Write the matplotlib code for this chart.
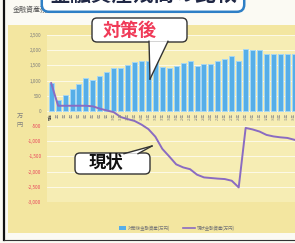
import matplotlib.pyplot as plt
from matplotlib.patches import FancyBboxPatch, Polygon, Rectangle
from matplotlib.lines import Line2D

plt.rcParams['font.family'] = ['Noto Sans CJK JP', 'DejaVu Sans']

# ---- data (万円) ----
x_labels = ['現在', '2年', '3年', '4年', '5年', '6年', '7年', '8年', '9年', '10年',
            '11年', '12年', '13年', '14年', '15年', '16年', '17年', '18年', '19年', '20年',
            '21年', '22年', '23年', '24年', '25年', '26年', '27年', '28年', '29年', '30年',
            '31年', '32年', '33年', '34年', '35年', '36年', '37年']
after_balance = [930, 360, 520, 710, 870, 1070, 1010, 1140, 1285, 1415,
                 1415, 1510, 1620, 1640, 1650, 1660, 1450, 1416, 1490, 1580,
                 1660, 1490, 1557, 1557, 1660, 1710, 1800, 1650, 2030, 2010,
                 2020, 1880, 1880, 1880, 1880, 1880, 1880]
current_balance = [915, 170, 170, 170, 170, 170, 150, 75, 15, -40,
                   -200, -270, -330, -450, -600, -850, -1250, -1500, -1760, -1860,
                   -1920, -2100, -2190, -2210, -2230, -2245, -2300, -2520, -560, -610,
                   -680, -790, -840, -870, -890, -950, -1000]
y_ticks = [2500, 2000, 1500, 1000, 500, 0, -500, -1000, -1500, -2000, -2500, -3000]
y_tick_labels = ['2,500', '2,000', '1,500', '1,000', '500', '0',
                 '-500', '-1,000', '-1,500', '-2,000', '-2,500', '-3,000']

title = '金融資産残高の比較'
after_name = '対策後金融資産(万円)'
current_name = '現状金融資産(万円)'

W, H = 295, 243


def P(x, y):
    # pixel position (from top-left) -> inches for dpi_scale_trans
    return x / 100, (H - y) / 100


fig = plt.figure(figsize=(W / 100, H / 100), dpi=100, facecolor='#fbfaf3')
tr = fig.dpi_scale_trans

# yellow chart background
fig.add_artist(Rectangle(P(8, 233), 287 / 100, 208 / 100, transform=tr,
                         facecolor='#f3e6a0', edgecolor='none', zorder=-5))

ax = fig.add_axes([47 / W, 1 - 202 / H, (304 - 47) / W, (202 - 35) / H])
ax.set_facecolor('#f6edb4')
xs = list(range(len(after_balance)))
ax.bar(xs, after_balance, width=0.72, color='#56aee8', edgecolor='#a6d7f4',
       linewidth=0.7, zorder=2)
ax.plot(xs, current_balance, color='#8a6bc2', linewidth=1.4, zorder=3)

ax.set_xlim(-0.6, len(xs) - 0.6)
ax.set_ylim(-3000, 2500)
ax.set_yticks(y_ticks)
ax.set_yticklabels(y_tick_labels, fontsize=3.3)
for t, v in zip(ax.get_yticklabels(), y_ticks):
    t.set_color('#e8405a' if v < 0 else '#7d7d7d')
ax.tick_params(axis='y', length=0, pad=4)
ax.set_xticks([])
ax.yaxis.grid(True, color='white', linewidth=0.6, alpha=0.8)
ax.set_axisbelow(True)
for s in ax.spines.values():
    s.set_visible(False)

for i, lbl in enumerate(x_labels):
    ax.annotate(lbl, (i, 0), xytext=(0, -1.5), textcoords='offset points',
                ha='center', va='top', rotation=90, fontsize=2.4,
                color='#444444' if i == 0 else '#8a8a8a')

# unit label
fig.text(*P(20, 116), '万', transform=tr, fontsize=4.5, color='#808080',
         ha='center', va='center')
fig.text(*P(20, 125), '円', transform=tr, fontsize=4.5, color='#808080',
         ha='center', va='center')

# small chart caption
fig.text(*P(13, 10), '金融資産残高', transform=tr, fontsize=5, color='#555555',
         ha='left', va='center')

# title box (cut off at the top edge)
fig.text(*P(143, -6), title, transform=tr, fontsize=15, fontweight='bold',
         color='#1f2745', ha='center', va='center',
         bbox=dict(boxstyle='round,pad=0.35', fc='white', ec='#2e7fc6', lw=1.8))


def callout(x0, y0, x1, y1, tail, text, color, size, cx, cy):
    box = FancyBboxPatch(P(x0, y1), (x1 - x0) / 100, (y1 - y0) / 100,
                         boxstyle='round,pad=0,rounding_size=0.05', transform=tr,
                         facecolor='white', edgecolor='#333333', linewidth=1.0, zorder=5)
    fig.add_artist(box)
    fig.add_artist(Polygon([P(*p) for p in tail], closed=True, transform=tr,
                           facecolor='white', edgecolor='none', zorder=6))
    for a, b in [(tail[0], tail[1]), (tail[1], tail[2])]:
        (ax_, ay_), (bx_, by_) = P(*a), P(*b)
        fig.add_artist(Line2D([ax_, bx_], [ay_, by_], transform=tr,
                              color='#333333', linewidth=1.0, zorder=7))
    fig.text(*P(cx, cy), text, transform=tr, fontsize=size, fontweight='bold',
             color=color, ha='center', va='center', zorder=8)


callout(92, 18, 187, 42, [(149, 41.3), (150, 79), (168, 41.3)],
        '対策後', '#f03a58', 13, 130, 30)
callout(75, 153, 150, 174, [(124, 153.7), (152, 146), (138, 153.7)],
        '現状', '#111111', 12.5, 106, 163)

# legend
fig.add_artist(Rectangle(P(119, 230), 7 / 100, 4 / 100, transform=tr,
                         facecolor='#56aee8', edgecolor='none'))
fig.text(*P(128, 228), after_name, transform=tr, fontsize=3.2, color='#777777',
         ha='left', va='center')
(lx0, ly0), (lx1, _) = P(183, 228), P(195, 228)
fig.add_artist(Line2D([lx0, lx1], [ly0, ly0], transform=tr, color='#8a6bc2', linewidth=1.2))
fig.text(*P(197, 228), current_name, transform=tr, fontsize=3.2, color='#777777',
         ha='left', va='center')

# page frame from the scan
(fx, fy0), (_, fy1) = P(4, 0), P(4, 240)
fig.add_artist(Line2D([fx, fx], [fy0, fy1], transform=tr, color='#111111', linewidth=1.6))
(bx0, by), (bx1, _) = P(4, 240), P(295, 240)
fig.add_artist(Line2D([bx0, bx1], [by, by], transform=tr, color='#333333', linewidth=0.8))

fig.savefig('out.png', dpi=100, facecolor=fig.get_facecolor())
